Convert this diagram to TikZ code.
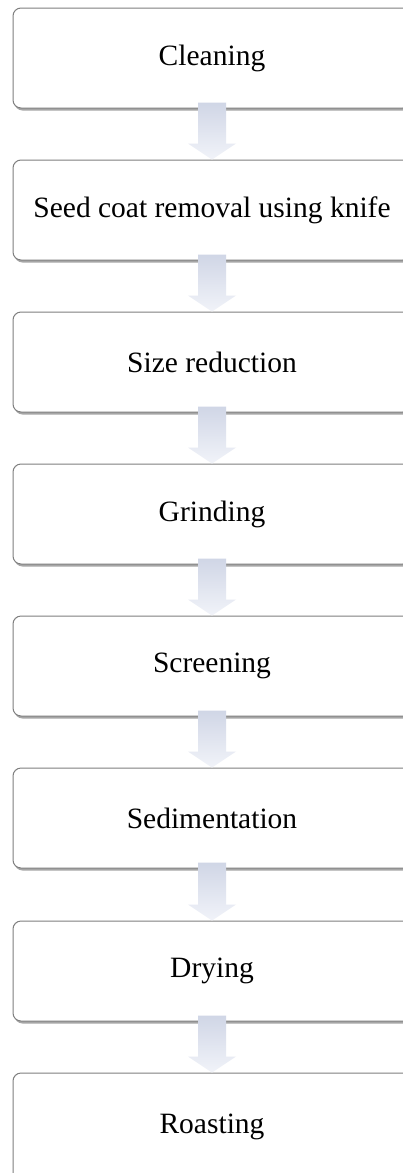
\documentclass[tikz,border=0pt]{standalone}
\usepackage{fontspec}
\setmainfont{Liberation Serif}
\usetikzlibrary{shadows,calc}
\definecolor{boxline}{HTML}{7F7F7F}
\definecolor{arrtop}{HTML}{D0D6E6}
\definecolor{arrbot}{HTML}{F1F3F9}
\tikzset{
  stepbox/.style={draw=boxline, line width=1pt, fill=white, rounded corners=8pt,
    minimum width=398pt, minimum height=100pt, inner sep=0pt,
    font=\fontsize{29.5}{36}\selectfont,
    drop shadow={shadow xshift=1.5pt, shadow yshift=-2.5pt, fill=black, opacity=0.35}},
  flowarrow/.style={top color=arrtop, bottom color=arrbot, draw=none}
}
\begin{document}
\begin{tikzpicture}[x=1pt,y=1pt]
\useasboundingbox (0,0) rectangle (403,-1173);
\fill[white] (0,0) rectangle (403,-1173);
\node[stepbox] (b1) at (212,-58) {Cleaning};
\node[stepbox] (b2) at (212,-210) {Seed coat removal using knife};
\node[stepbox] (b3) at (212,-362) {Size reduction};
\node[stepbox] (b4) at (212,-514) {Grinding};
\node[stepbox] (b5) at (212,-666) {Screening};
\node[stepbox] (b6) at (212,-818) {Sedimentation};
\node[stepbox] (b7) at (212,-971) {Drying};
\node[stepbox, minimum height=108pt] (b8) at (212,-1127) {\raisebox{4pt}{Roasting}};
\foreach \i in {1,...,7}{
  \pgfmathtruncatemacro\j{\i+1}
  \shade[flowarrow]
    ($(b\i.south)+(-14,6)$) -- ($(b\i.south)+(14,6)$) --
    ($(b\j.north)+(14,16)$) -- ($(b\j.north)+(24,16)$) --
    (b\j.north) -- ($(b\j.north)+(-24,16)$) --
    ($(b\j.north)+(-14,16)$) -- cycle;
}
\end{tikzpicture}
\end{document}
